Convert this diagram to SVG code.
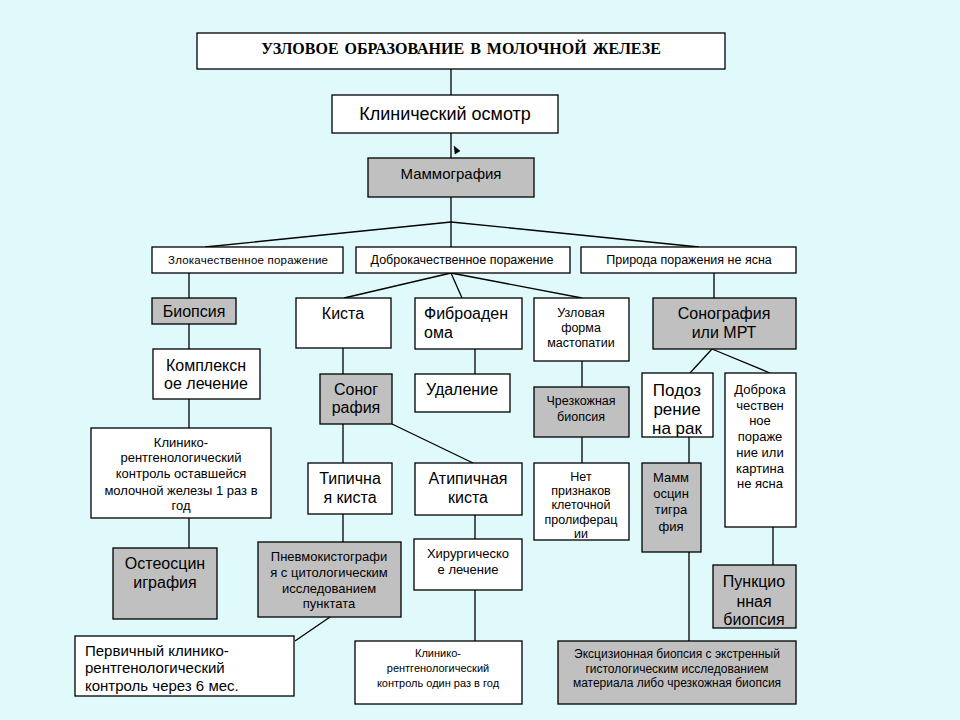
<svg xmlns="http://www.w3.org/2000/svg" width="960" height="720" viewBox="0 0 960 720">
<style>
.bg{fill:#e0fafc}
.b{fill:#fff;stroke:#000;stroke-width:1.3}
.g{fill:#c0c0c0;stroke:#000;stroke-width:1.3}
.t{font-family:"Liberation Sans",Arial,sans-serif;fill:#000;text-anchor:middle}
.s{text-anchor:start}
.ttl{font-family:"Liberation Serif","Times New Roman",serif;font-weight:bold;font-size:16px;fill:#000;text-anchor:middle;word-spacing:2px}
.c line,.c polygon{stroke:#000;stroke-width:1.3;fill:none}
</style>
<rect class="bg" x="0" y="0" width="960" height="720"/>
<g class="c" id="connectors">
<line x1="451" y1="69" x2="451" y2="95"/>
<line x1="451" y1="133" x2="451" y2="158"/>
<polygon points="454,146 460,151 455,154" style="fill:#000;stroke-width:0.5"/>
<line x1="451" y1="197" x2="451" y2="222"/>
<line x1="451" y1="222" x2="205" y2="247"/>
<line x1="451" y1="222" x2="451" y2="247"/>
<line x1="451" y1="222" x2="699" y2="247"/>
<line x1="189" y1="273" x2="189" y2="298"/>
<line x1="189" y1="324" x2="189" y2="349"/>
<line x1="189" y1="399" x2="189" y2="428"/>
<line x1="189" y1="518" x2="189" y2="548"/>
<line x1="451" y1="273" x2="344" y2="298"/>
<line x1="451" y1="273" x2="462" y2="298"/>
<line x1="451" y1="273" x2="582" y2="298"/>
<line x1="343" y1="348" x2="343" y2="374"/>
<line x1="475" y1="349" x2="475" y2="374"/>
<line x1="582" y1="361" x2="582" y2="387"/>
<line x1="582" y1="437" x2="582" y2="463"/>
<line x1="343" y1="424" x2="343" y2="463"/>
<line x1="392" y1="424" x2="473" y2="463"/>
<line x1="343" y1="514" x2="343" y2="542"/>
<line x1="330" y1="617" x2="295" y2="641"/>
<line x1="475" y1="515" x2="475" y2="539"/>
<line x1="475" y1="590" x2="475" y2="641"/>
<line x1="714" y1="273" x2="714" y2="298"/>
<line x1="712" y1="349" x2="690" y2="373"/>
<line x1="712" y1="349" x2="770" y2="373"/>
<line x1="689" y1="437" x2="689" y2="463"/>
<line x1="689" y1="552" x2="689" y2="641"/>
<line x1="773" y1="527" x2="773" y2="565"/>
</g>
<g id="title"><rect class="b" x="197" y="33" width="528" height="36"/><text class="ttl" x="461" y="54">УЗЛОВОЕ ОБРАЗОВАНИЕ В МОЛОЧНОЙ ЖЕЛЕЗЕ</text></g>
<g id="clinical"><rect class="b" x="332" y="95" width="226" height="38"/><text class="t" x="445" y="120" font-size="18">Клинический осмотр</text></g>
<g id="mammo"><rect class="g" x="368" y="158" width="166" height="39"/><text class="t" x="451" y="179" font-size="15">Маммография</text></g>
<g id="malignant"><rect class="b" x="152" y="247" width="191" height="26"/><text class="t" x="248" y="264" font-size="11.5" textLength="160">Злокачественное поражение</text></g>
<g id="benign"><rect class="b" x="356" y="247" width="214" height="26"/><text class="t" x="462" y="264" font-size="12.5">Доброкачественное поражение</text></g>
<g id="unclear"><rect class="b" x="581" y="247" width="215" height="26"/><text class="t" x="689" y="264" font-size="12.5">Природа поражения не ясна</text></g>
<g id="biopsy"><rect class="g" x="152" y="298" width="84" height="26"/><text class="t" x="194" y="317" font-size="16">Биопсия</text></g>
<g id="complex"><rect class="b" x="153" y="349" width="107" height="50"/><text class="t" x="206" y="371" font-size="16">Комплексн</text><text class="t" x="206" y="389" font-size="16">ое лечение</text></g>
<g id="control1"><rect class="b" x="91" y="428" width="180" height="90"/><g class="t" font-size="13"><text x="181" y="447">Клинико-</text><text x="181" y="462">рентгенологический</text><text x="181" y="478">контроль оставшейся</text><text x="181" y="495">молочной железы 1 раз в</text><text x="181" y="510">год</text></g></g>
<g id="osteo"><rect class="g" x="113" y="548" width="104" height="71"/><text class="t" x="165" y="569" font-size="16">Остеосцин</text><text class="t" x="165" y="588" font-size="16">играфия</text></g>
<g id="cyst"><rect class="b" x="296" y="298" width="95" height="50"/><text class="t" x="343" y="319" font-size="16">Киста</text></g>
<g id="fibro"><rect class="b" x="415" y="298" width="107" height="51"/><text class="t s" x="424" y="319" font-size="16">Фиброаден</text><text class="t s" x="424" y="338" font-size="16">ома</text></g>
<g id="nodular"><rect class="b" x="534" y="298" width="95" height="63"/><g class="t" font-size="12.5"><text x="581" y="317">Узловая</text><text x="581" y="332">форма</text><text x="581" y="347">мастопатии</text></g></g>
<g id="sono"><rect class="g" x="320" y="374" width="72" height="50"/><text class="t" x="356" y="395" font-size="16">Соног</text><text class="t" x="356" y="413" font-size="16">рафия</text></g>
<g id="removal"><rect class="b" x="415" y="374" width="95" height="38"/><text class="t" x="462" y="395" font-size="16">Удаление</text></g>
<g id="percut"><rect class="g" x="534" y="387" width="95" height="50"/><text class="t" x="581" y="405" font-size="12.5">Чрезкожная</text><text class="t" x="581" y="421" font-size="12.5">биопсия</text></g>
<g id="noprolif"><rect class="b" x="534" y="463" width="95" height="77"/><g class="t" font-size="12.5"><text x="581" y="481">Нет</text><text x="581" y="495">признаков</text><text x="581" y="509">клеточной</text><text x="581" y="524">пролиферац</text><text x="581" y="538">ии</text></g></g>
<g id="typical"><rect class="b" x="308" y="463" width="84" height="51"/><text class="t" x="350" y="484" font-size="16">Типична</text><text class="t" x="350" y="503" font-size="16">я киста</text></g>
<g id="atypical"><rect class="b" x="415" y="463" width="107" height="52"/><text class="t" x="468" y="484" font-size="16">Атипичная</text><text class="t" x="468" y="503" font-size="16">киста</text></g>
<g id="pneumo"><rect class="g" x="258" y="542" width="143" height="75"/><g class="t" font-size="13"><text x="329" y="561">Пневмокистографи</text><text x="329" y="577">я с цитологическим</text><text x="329" y="593">исследованием</text><text x="329" y="608">пунктата</text></g></g>
<g id="primary"><rect class="b" x="75" y="636" width="219" height="60"/><g class="t s" font-size="15"><text x="85" y="656">Первичный клинико-</text><text x="85" y="673">рентгенологический</text><text x="85" y="691">контроль через 6 мес.</text></g></g>
<g id="surgery"><rect class="b" x="414" y="539" width="108" height="51"/><text class="t" x="468" y="558" font-size="13">Хирургическо</text><text class="t" x="468" y="574" font-size="13">е лечение</text></g>
<g id="control2"><rect class="b" x="355" y="641" width="167" height="63"/><g class="t" font-size="11"><text x="438" y="657">Клинико-</text><text x="438" y="672">рентгенологический</text><text x="438" y="687">контроль один раз в год</text></g></g>
<g id="sonomrt"><rect class="g" x="653" y="298" width="143" height="51"/><text class="t" x="724" y="319" font-size="16">Сонография</text><text class="t" x="724" y="338" font-size="16">или МРТ</text></g>
<g id="suspicion"><rect class="b" x="642" y="373" width="71" height="64"/><g class="t" font-size="17"><text x="677" y="396">Подоз</text><text x="677" y="415">рение</text><text x="677" y="434">на рак</text></g></g>
<g id="benignunclear"><rect class="b" x="725" y="373" width="71" height="154"/><g class="t" font-size="13"><text x="760" y="394">Доброка</text><text x="760" y="410">чествен</text><text x="760" y="425">ное</text><text x="760" y="441">пораже</text><text x="760" y="457">ние или</text><text x="760" y="473">картина</text><text x="760" y="488">не ясна</text></g></g>
<g id="mammoscint"><rect class="g" x="642" y="463" width="59" height="89"/><g class="t" font-size="13"><text x="671" y="482">Мамм</text><text x="671" y="498">осцин</text><text x="671" y="514">тигра</text><text x="671" y="531">фия</text></g></g>
<g id="puncture"><rect class="g" x="713" y="565" width="83" height="63"/><g class="t" font-size="16"><text x="754" y="587">Пункцио</text><text x="754" y="607">нная</text><text x="754" y="625">биопсия</text></g></g>
<g id="excision"><rect class="g" x="558" y="641" width="238" height="63"/><g class="t" font-size="12"><text x="677" y="658">Эксцизионная биопсия с экстренный</text><text x="677" y="673">гистологическим исследованием</text><text x="677" y="687">материала либо чрезкожная биопсия</text></g></g>
</svg>
